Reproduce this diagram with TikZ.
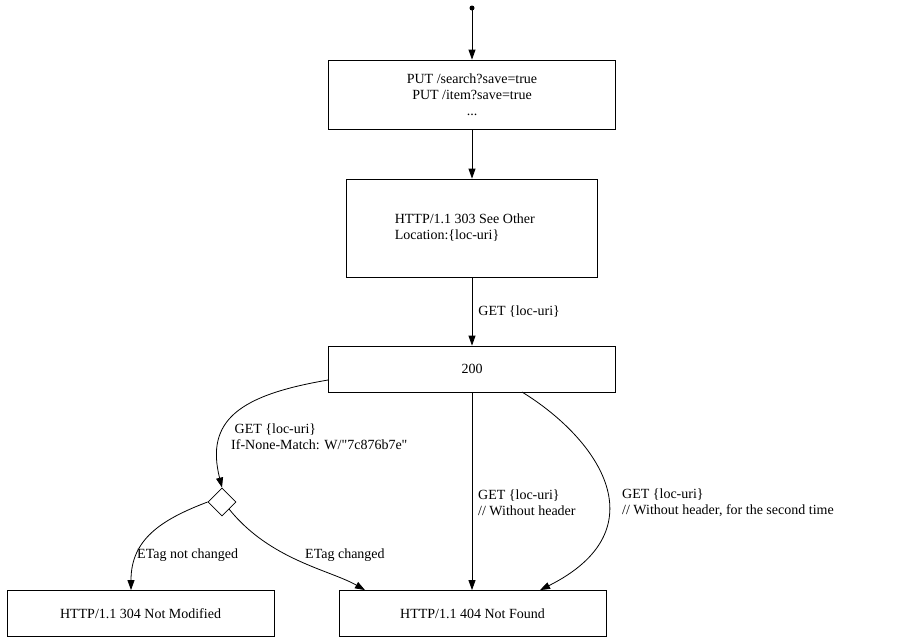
\documentclass[tikz,border=0pt]{standalone}
\usepackage{fontspec}
\setmainfont{Liberation Serif}
\usetikzlibrary{arrows.meta,positioning,shapes.geometric}

\begin{document}
\begin{tikzpicture}[x=1pt,y=-1pt,
  state/.style={draw, thick, minimum height=46pt, font=\fontsize{14}{16}\selectfont},
  lbl/.style={font=\fontsize{14}{16}\selectfont, anchor=west, align=left, inner sep=0pt},
  flow/.style={thick, -{Triangle[length=10pt,width=7pt]}}]
\useasboundingbox (0,0) rectangle (908,643);

% start point
\fill (472,8) circle (2.5pt) coordinate (start);

% request and redirect
\node[state, minimum width=287pt, minimum height=69pt, align=center] (req) at (472,94.5)
  {PUT /search?save=true\\PUT /item?save=true\\...};
\node[state, minimum width=251pt, minimum height=98pt, align=left] (see) at (472,228)
  {HTTP/1.1 303 See Other\\Location:\{loc-uri\}\hspace*{50pt}};

% result
\node[state, minimum width=287pt] (ok) at (472,369) {200};
\node[draw, thick, diamond, minimum size=28pt, inner sep=0pt] (check) at (222,502) {};

% final states
\node[state, minimum width=267pt] (notmod) at (140.5,613.5) {HTTP/1.1 304 Not Modified};
\node[state, minimum width=267pt] (notfound) at (472.5,613.5) {HTTP/1.1 404 Not Found};

% connectors
\draw[flow] (start) -- (req);
\draw[flow] (req) -- (see);
\draw[flow] (see) -- node[lbl, right=6pt] {GET \{loc-uri\}} (ok);
\draw[flow] (ok.west |- 0,380) .. controls (240,395) and (205,420) .. (check.north);
\node[lbl] (condget) at (231,437) {\ GET \{loc-uri\}\\If-None-Match: W/\textquotedbl7c876b7e\textquotedbl};
\draw[flow] (ok.south -| 472,392) -- (notfound.north -| 472,590);
\node[lbl] (plainget) at (478,503) {GET \{loc-uri\}\\// Without header};
\draw[flow] (522,392) .. controls (600,440) and (660,530) .. (notfound.north -| 540,590);
\node[lbl] (secondget) at (622,503) {GET \{loc-uri\}\\// Without header, for the second time};
\draw[flow] (check.west) .. controls (160,520) and (131,540) .. (notmod.north -| 131,590);
\node[lbl] (same) at (137,555) {ETag not changed};
\draw[flow] (check.south east) .. controls (270,560) and (330,570) .. (notfound.north -| 365,590);
\node[lbl] (changed) at (305,555) {ETag changed};
\end{tikzpicture}
\end{document}
